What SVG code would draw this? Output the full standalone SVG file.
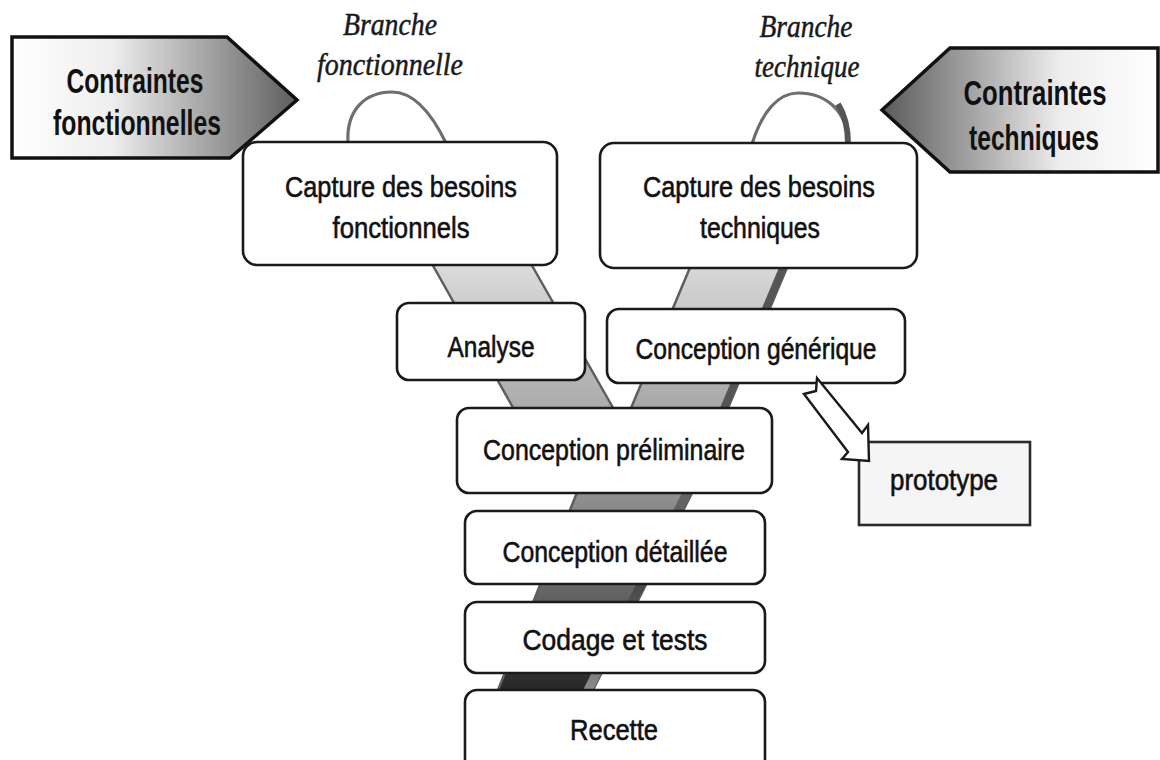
<svg xmlns="http://www.w3.org/2000/svg" width="1160" height="760" viewBox="0 0 1160 760">
<style>
.box{fill:#fff;stroke:#1a1a1a;stroke-width:2.6}
.lbl{font-family:"Liberation Sans",Arial,sans-serif;font-size:30px;fill:#111;stroke:#111;stroke-width:0.6;text-anchor:middle}
.big{font-family:"Liberation Sans",Arial,sans-serif;font-weight:bold;font-size:35px;fill:#111;text-anchor:middle}
.br{font-family:"Liberation Serif","Times New Roman",serif;font-style:italic;font-size:31px;fill:#1a1a1a;stroke:#1a1a1a;stroke-width:0.5;text-anchor:middle}
.band{stroke:#5e5e5e;stroke-width:2.5;stroke-linejoin:round}
.loop{fill:none;stroke:#6e6e6e;stroke-width:3.2;stroke-linecap:round}
.pent{stroke:#111;stroke-width:3.5;stroke-linejoin:miter}
</style>
<defs>
<linearGradient id="gL" x1="12" y1="0" x2="297" y2="0" gradientUnits="userSpaceOnUse">
<stop offset="0" stop-color="#ffffff"/><stop offset="0.35" stop-color="#eeeeee"/><stop offset="1" stop-color="#5e5e5e"/>
</linearGradient>
<linearGradient id="gR" x1="882" y1="0" x2="1158" y2="0" gradientUnits="userSpaceOnUse">
<stop offset="0" stop-color="#5a5a5a"/><stop offset="0.65" stop-color="#eeeeee"/><stop offset="1" stop-color="#ffffff"/>
</linearGradient>
<linearGradient id="gBandL" x1="0" y1="262" x2="0" y2="412" gradientUnits="userSpaceOnUse">
<stop offset="0" stop-color="#dcdcdc"/><stop offset="1" stop-color="#a9a9a9"/>
</linearGradient>
<linearGradient id="gBandR" x1="0" y1="265" x2="0" y2="412" gradientUnits="userSpaceOnUse">
<stop offset="0" stop-color="#d8d8d8"/><stop offset="1" stop-color="#a6a6a6"/>
</linearGradient>
<linearGradient id="gBandB" x1="0" y1="490" x2="0" y2="690" gradientUnits="userSpaceOnUse">
<stop offset="0" stop-color="#929292"/><stop offset="0.5" stop-color="#666666"/><stop offset="1" stop-color="#262626"/>
</linearGradient>
<linearGradient id="gStripB" x1="0" y1="490" x2="0" y2="690" gradientUnits="userSpaceOnUse">
<stop offset="0" stop-color="#666666"/><stop offset="0.5" stop-color="#4a4a4a"/><stop offset="1" stop-color="#8a8a8a"/>
</linearGradient>
</defs>
<rect width="1160" height="760" fill="#ffffff"/>

<g id="connectors">
<polygon class="band" points="427,255 526,255 620,420 520,420" fill="url(#gBandL)"/>
<polygon class="band" points="694,258 791,258 723,420 626,420" fill="url(#gBandR)"/>
<polygon points="783,258 791,258 723,420 715,420" fill="#555555"/>
<polygon class="band" points="580,485 696,485 588,700 494,700" fill="url(#gBandB)"/>
<polygon points="686,485 696,485 588,700 578,700" fill="url(#gStripB)"/>
<path class="loop" d="M348,143 C346,110 365,92 392,92 C412,92 430,110 446,143"/>
<path class="loop" d="M752,144 C762,112 778,93 798,93 C825,93 848,110 848,144"/>
<path d="M838,104 C845,115 848,128 848,144" fill="none" stroke="#555" stroke-width="6"/>
</g>

<g id="contraintes-fonctionnelles">
<polygon class="pent" points="12,37 227,37 297,100 230,158 12,158" fill="url(#gL)"/>
<text class="big" x="135" y="93" textLength="137" lengthAdjust="spacingAndGlyphs">Contraintes</text>
<text class="big" x="137" y="135" textLength="168" lengthAdjust="spacingAndGlyphs">fonctionnelles</text>
</g>

<g id="contraintes-techniques">
<polygon class="pent" points="882,110 950,48 1158,48 1158,172 950,172" fill="url(#gR)"/>
<text class="big" x="1035" y="105" textLength="143" lengthAdjust="spacingAndGlyphs">Contraintes</text>
<text class="big" x="1034" y="150" textLength="130" lengthAdjust="spacingAndGlyphs">techniques</text>
</g>

<g id="branche-fonctionnelle">
<text class="br" x="390" y="35" textLength="94" lengthAdjust="spacingAndGlyphs">Branche</text>
<text class="br" x="390" y="75" textLength="146" lengthAdjust="spacingAndGlyphs">fonctionnelle</text>
</g>

<g id="branche-technique">
<text class="br" x="806" y="37" textLength="93" lengthAdjust="spacingAndGlyphs">Branche</text>
<text class="br" x="807" y="77" textLength="105" lengthAdjust="spacingAndGlyphs">technique</text>
</g>

<g id="capture-fonctionnels">
<rect class="box" x="243" y="142" width="314" height="123" rx="14"/>
<text class="lbl" x="401" y="197" textLength="232" lengthAdjust="spacingAndGlyphs">Capture des besoins</text>
<text class="lbl" x="401" y="238" textLength="137" lengthAdjust="spacingAndGlyphs">fonctionnels</text>
</g>

<g id="capture-techniques">
<rect class="box" x="600" y="143" width="317" height="125" rx="14"/>
<text class="lbl" x="759" y="197" textLength="232" lengthAdjust="spacingAndGlyphs">Capture des besoins</text>
<text class="lbl" x="760" y="238" textLength="120" lengthAdjust="spacingAndGlyphs">techniques</text>
</g>

<g id="analyse">
<rect class="box" x="397" y="303" width="188" height="77" rx="12"/>
<text class="lbl" x="491" y="357" textLength="87" lengthAdjust="spacingAndGlyphs">Analyse</text>
</g>

<g id="conception-generique">
<rect class="box" x="607" y="309" width="298" height="74" rx="12"/>
<text class="lbl" x="756" y="359" textLength="241" lengthAdjust="spacingAndGlyphs">Conception générique</text>
</g>

<g id="conception-preliminaire">
<rect class="box" x="457" y="408" width="315" height="85" rx="12"/>
<text class="lbl" x="614" y="460" textLength="262" lengthAdjust="spacingAndGlyphs">Conception préliminaire</text>
</g>

<g id="conception-detaillee">
<rect class="box" x="465" y="511" width="300" height="73" rx="12"/>
<text class="lbl" x="615" y="562" textLength="225" lengthAdjust="spacingAndGlyphs">Conception détaillée</text>
</g>

<g id="codage-tests">
<rect class="box" x="465" y="602" width="300" height="71" rx="12"/>
<text class="lbl" x="615" y="650" textLength="185" lengthAdjust="spacingAndGlyphs">Codage et tests</text>
</g>

<g id="recette">
<rect class="box" x="465" y="690" width="300" height="90" rx="12"/>
<text class="lbl" x="614" y="740" textLength="88" lengthAdjust="spacingAndGlyphs">Recette</text>
</g>

<g id="prototype">
<rect x="859" y="442" width="171" height="83" fill="#f5f5f5" stroke="#2a2a2a" stroke-width="2.6"/>
<text class="lbl" x="944" y="490" textLength="108" lengthAdjust="spacingAndGlyphs">prototype</text>
</g>

<g id="arrow-prototype">
<polygon points="804,394 816,391 817,378 862,433 868,425 869,461 842,459 848,452" fill="#ffffff" stroke="#1a1a1a" stroke-width="2.4" stroke-linejoin="miter"/>
</g>
</svg>
